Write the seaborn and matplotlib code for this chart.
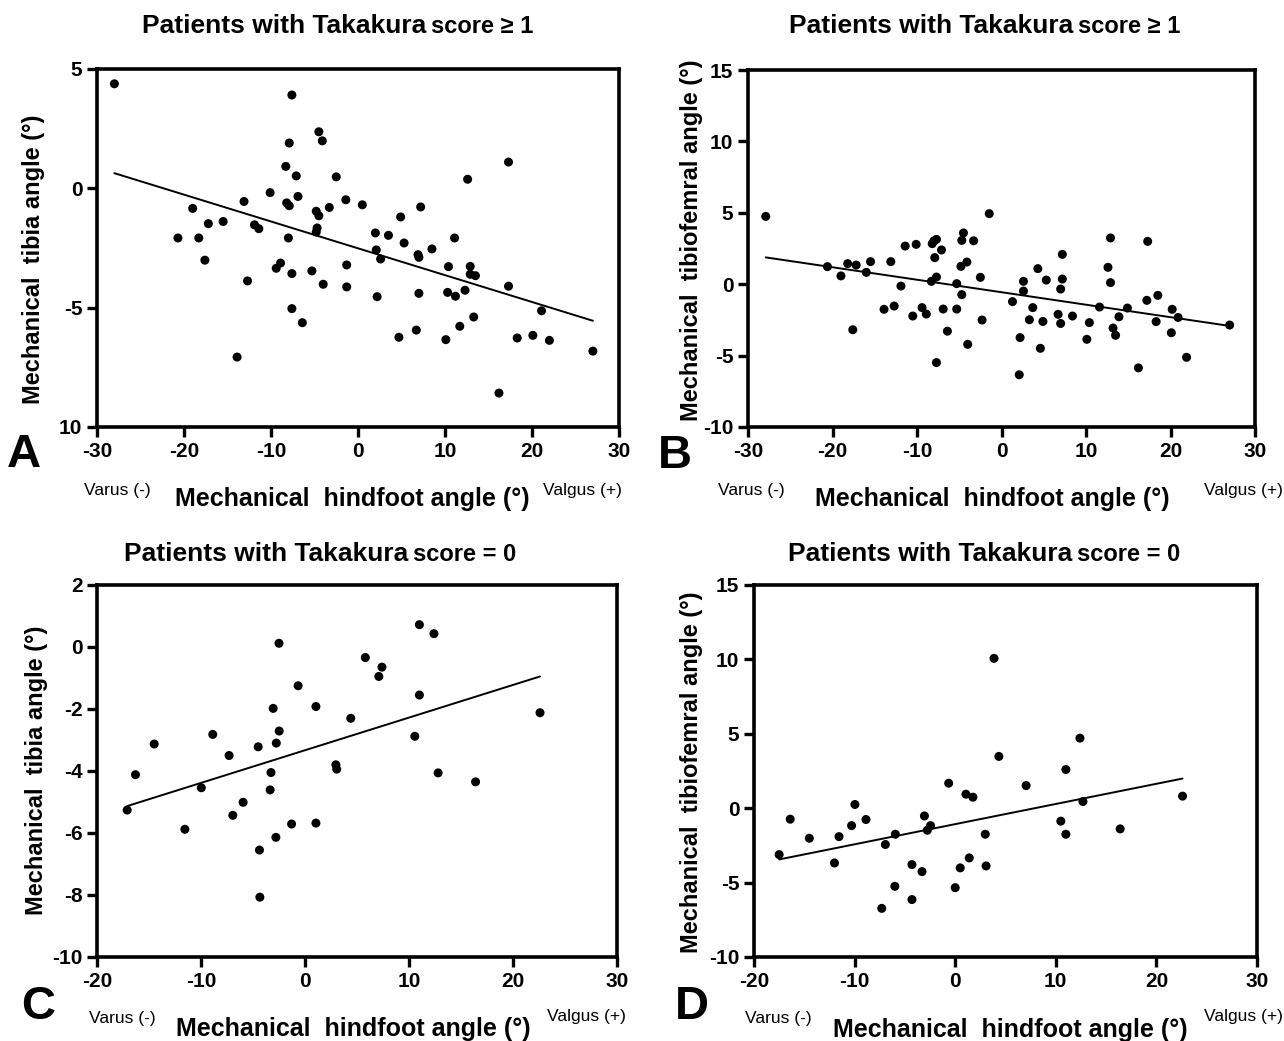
import numpy as np
import pandas as pd
import matplotlib
matplotlib.use("Agg")
import matplotlib.pyplot as plt
import seaborn as sns

# ---------------- data ----------------
A_x = [-28.0, -7.6, -4.5, -4.1, -7.9, 17.3, -8.3, -7.1, -2.5, 12.6, -10.1, -6.9, -1.4, -13.1, -8.2, -7.9, 0.5,
       -19.0, -3.3, 7.2, -4.8, -4.5, 4.9, -15.5, -17.2, -11.9, -11.4, -4.7, -4.8, 2.0, 3.5, -20.7, -18.3, -8.0,
       11.1, 5.3, 8.5, 2.1, 2.6, 6.9, 7.0, -17.6, -1.3, 10.4, 12.9, -8.9, -9.4, -5.3, -7.6, 12.9, 13.5, -12.7,
       -4.0, -1.3, 17.3, 7.0, 10.3, 11.2, 12.3, 2.2, -7.6, 21.1, 13.3, -6.4, 11.7, 6.7, 4.7, 10.1, 18.3, 20.1,
       22.0, -13.9, 27.0, 16.2]
A_y = [4.38, 3.91, 2.37, 1.99, 1.90, 1.10, 0.92, 0.52, 0.48, 0.38, -0.18, -0.34, -0.48, -0.55, -0.61, -0.73,
       -0.69, -0.84, -0.80, -0.78, -0.96, -1.15, -1.20, -1.39, -1.48, -1.53, -1.69, -1.66, -1.83, -1.87, -1.97,
       -2.08, -2.08, -2.08, -2.08, -2.29, -2.54, -2.58, -2.96, -2.78, -2.89, -3.01, -3.21, -3.28, -3.27, -3.13,
       -3.35, -3.46, -3.57, -3.60, -3.66, -3.88, -4.02, -4.13, -4.10, -4.40, -4.36, -4.52, -4.27, -4.54, -5.04,
       -5.13, -5.39, -5.63, -5.78, -5.94, -6.24, -6.34, -6.27, -6.16, -6.37, -7.07, -6.82, -8.58]

B_x = [-27.9, -1.45, -4.5, -4.7, -3.3, -7.7, -8.0, -8.2, -11.4, -10.1, -7.1, 12.9, 17.3, 7.2, -7.9, -20.6,
       -18.2, -17.2, -15.5, -13.1, -4.1, -4.8, 4.3, 12.6, -16.0, -19.0, -7.7, -2.5, 7.2, 5.3, 2.6, -8.3, 12.9,
       -5.3, -11.9, 7.0, 2.6, -4.7, 18.5, 17.2, 1.3, 11.6, 3.7, 14.9, 20.2, -13.9, -12.7, -6.9, -5.3, -9.4,
       -8.9, -10.5, 8.4, 6.7, 13.9, 20.9, -2.3, 3.3, 4.9, 7.0, 10.4, 18.3, 27.0, 13.2, -17.6, -6.4, 20.1, 13.5,
       2.2, 10.1, -4.0, 4.6, 21.9, -7.7, 16.2, 2.1]
B_y = [4.75, 4.94, 3.59, 3.07, 3.04, 3.14, 3.03, 2.84, 2.67, 2.79, 2.40, 3.24, 3.00, 2.09, 1.86, 1.23, 1.44,
       1.34, 1.58, 1.58, 1.55, 1.25, 1.09, 1.18, 0.83, 0.58, 0.50, 0.48, 0.36, 0.29, 0.20, 0.20, 0.11, 0.04,
       -0.13, -0.34, -0.48, -0.73, -0.78, -1.13, -1.22, -1.60, -1.64, -1.67, -1.76, -1.76, -1.53, -1.74, -1.74,
       -1.64, -2.09, -2.23, -2.23, -2.11, -2.28, -2.33, -2.51, -2.49, -2.61, -2.75, -2.69, -2.62, -2.86, -3.07,
       -3.19, -3.29, -3.40, -3.58, -3.74, -3.86, -4.21, -4.49, -5.12, -5.49, -5.86, -6.34]

C_x = [11.0, 12.4, -2.5, 5.8, 7.4, 7.1, -0.66, 11.0, 1.05, -3.06, 22.6, 4.4, -2.48, -8.87, 10.56, -14.5,
       -2.76, -4.5, -7.3, 2.97, 3.05, -3.27, 12.8, -16.3, 16.4, -9.97, -3.35, -5.95, -17.1, -6.94, 1.05, -1.29,
       -11.55, -2.8, -4.38, -4.34]
C_y = [0.72, 0.43, 0.12, -0.34, -0.65, -0.95, -1.25, -1.55, -1.92, -1.98, -2.12, -2.30, -2.71, -2.82, -2.88,
       -3.13, -3.10, -3.22, -3.50, -3.80, -3.94, -4.05, -4.06, -4.12, -4.35, -4.54, -4.61, -5.01, -5.26, -5.43,
       -5.68, -5.71, -5.88, -6.14, -6.55, -8.07]

D_x = [3.86, 12.4, 4.34, 11.0, -0.65, 7.05, 1.07, 1.76, 22.6, -9.97, 12.7, -3.06, -16.4, -8.87, 10.5, -10.3,
       -2.45, -2.77, 16.4, -11.55, -5.95, 2.99, 11.0, -14.5, -6.94, -17.5, 1.4, -12.0, -4.3, 3.07, 0.5, -3.3,
       -6.0, 0.0, -4.3, -7.3]
D_y = [10.07, 4.71, 3.48, 2.60, 1.68, 1.52, 0.94, 0.74, 0.81, 0.25, 0.45, -0.52, -0.74, -0.76, -0.87, -1.17,
       -1.17, -1.48, -1.39, -1.91, -1.75, -1.75, -1.75, -2.02, -2.44, -3.12, -3.34, -3.68, -3.79, -3.88, -4.01,
       -4.26, -5.25, -5.34, -6.14, -6.73]

x_ticks_AB = [-30, -20, -10, 0, 10, 20, 30]
x_ticks_CD = [-20, -10, 0, 10, 20, 30]
y_ticks_A = [-10, -5, 0, 5]
y_ticklabels_A = ["10", "-5", "0", "5"]
y_ticks_B = [-10, -5, 0, 5, 10, 15]
y_ticks_C = [-10, -8, -6, -4, -2, 0, 2]
y_ticks_D = [-10, -5, 0, 5, 10, 15]

title_main = "Patients with Takakura"
title_ge1 = "score \u2265 1"
title_eq0 = "score = 0"
xlabel = "Mechanical  hindfoot angle (\u00b0)"
ylabel_tibia = "Mechanical  tibia angle (\u00b0)"
ylabel_tf = "Mechanical  tibiofemral angle (\u00b0)"
varus = "Varus (-)"
valgus = "Valgus (+)"

# ---------------- style ----------------
sns.set_theme(style="ticks")
FONT = ["Liberation Sans", "DejaVu Sans"]
plt.rcParams["font.family"] = FONT
plt.rcParams["axes.unicode_minus"] = False
plt.rcParams["text.color"] = "black"
plt.rcParams["xtick.color"] = "black"
plt.rcParams["ytick.color"] = "black"
plt.rcParams["xtick.labelcolor"] = "black"
plt.rcParams["ytick.labelcolor"] = "black"

W, H = 1284, 1041
fig = plt.figure(figsize=(W / 100, H / 100), dpi=100)


def px(x, y):
    return x / W, 1 - y / H


def make_axes(left, top, right, bottom):
    return fig.add_axes([left / W, 1 - bottom / H, (right - left) / W, (bottom - top) / H])


panels = [
    dict(x=A_x, y=A_y, box=(97, 69, 619, 427), xlim=(-30, 30), ylim=(-10, 5), xt=x_ticks_AB,
         yt=y_ticks_A, ytl=y_ticklabels_A, ylabel=ylabel_tibia, sub=title_ge1,
         tbreak=(426, 33), ylab_pos=(34, 259), letter="A", letter_pos=(24, 455),
         var_pos=(117, 490), xl_pos=(352, 499), val_pos=(622, 490)),
    dict(x=B_x, y=B_y, box=(748, 70, 1255, 427), xlim=(-30, 30), ylim=(-10, 15), xt=x_ticks_AB,
         yt=y_ticks_B, ytl=None, ylabel=ylabel_tf, sub=title_ge1,
         tbreak=(1073, 33), ylab_pos=(692, 240), letter="B", letter_pos=(675, 456),
         var_pos=(751, 490), xl_pos=(992, 499), val_pos=(1283, 490)),
    dict(x=C_x, y=C_y, box=(97, 585, 617, 957), xlim=(-20, 30), ylim=(-10, 2), xt=x_ticks_CD,
         yt=y_ticks_C, ytl=None, ylabel=ylabel_tibia, sub=title_eq0,
         tbreak=(408, 561), ylab_pos=(37, 770), letter="C", letter_pos=(38, 1007),
         var_pos=(122, 1018), xl_pos=(353, 1029), val_pos=(626, 1016)),
    dict(x=D_x, y=D_y, box=(754, 585, 1257, 957), xlim=(-20, 30), ylim=(-10, 15), xt=x_ticks_CD,
         yt=y_ticks_D, ytl=None, ylabel=ylabel_tf, sub=title_eq0,
         tbreak=(1072, 561), ylab_pos=(692, 772), letter="D", letter_pos=(692, 1007),
         var_pos=(778, 1018), xl_pos=(1010, 1030), val_pos=(1283, 1016)),
]

for p in panels:
    ax = make_axes(*p["box"])
    df = pd.DataFrame({"x": p["x"], "y": p["y"]})
    sns.regplot(data=df, x="x", y="y", ax=ax, ci=None, truncate=True,
                scatter_kws=dict(s=42, color="black", edgecolor="none", alpha=1, zorder=3),
                line_kws=dict(color="black", linewidth=1.4, zorder=2))
    ax.set_xlim(*p["xlim"])
    ax.set_ylim(*p["ylim"])
    ax.set_xticks(p["xt"])
    ax.set_yticks(p["yt"])
    if p["ytl"] is not None:
        ax.set_yticklabels(p["ytl"])
    ax.set_xlabel("")
    ax.set_ylabel("")
    for s in ax.spines.values():
        s.set_linewidth(2.6)
        s.set_color("black")
    ax.tick_params(axis="both", which="major", direction="out", length=7.5, width=2.4,
                   color="black", labelcolor="black", labelsize=15, pad=3, top=False, right=False)
    for lab in ax.get_xticklabels() + ax.get_yticklabels():
        lab.set_fontweight("bold")
    ax.set_facecolor("white")

    # titles
    bx, by = p["tbreak"]
    fig.text(*px(bx, by), title_main, ha="right", va="baseline", fontsize=19, fontweight="bold")
    fig.text(*px(bx + 5, by), p["sub"], ha="left", va="baseline", fontsize=17, fontweight="bold")
    # y label
    fig.text(*px(*p["ylab_pos"]), p["ylabel"], rotation=90, ha="center", va="center",
             fontsize=17, fontweight="bold")
    # x label pieces
    fig.text(*px(*p["xl_pos"]), xlabel, ha="center", va="center", fontsize=18, fontweight="bold")
    fig.text(*px(*p["var_pos"]), varus, ha="center", va="center", fontsize=12.5)
    fig.text(*px(*p["val_pos"]), valgus, ha="right", va="center", fontsize=12.5)
    # panel letter
    fig.text(*px(*p["letter_pos"]), p["letter"], ha="center", va="center", fontsize=34,
             fontweight="bold")

fig.savefig("out.png", dpi=100, facecolor="white")
